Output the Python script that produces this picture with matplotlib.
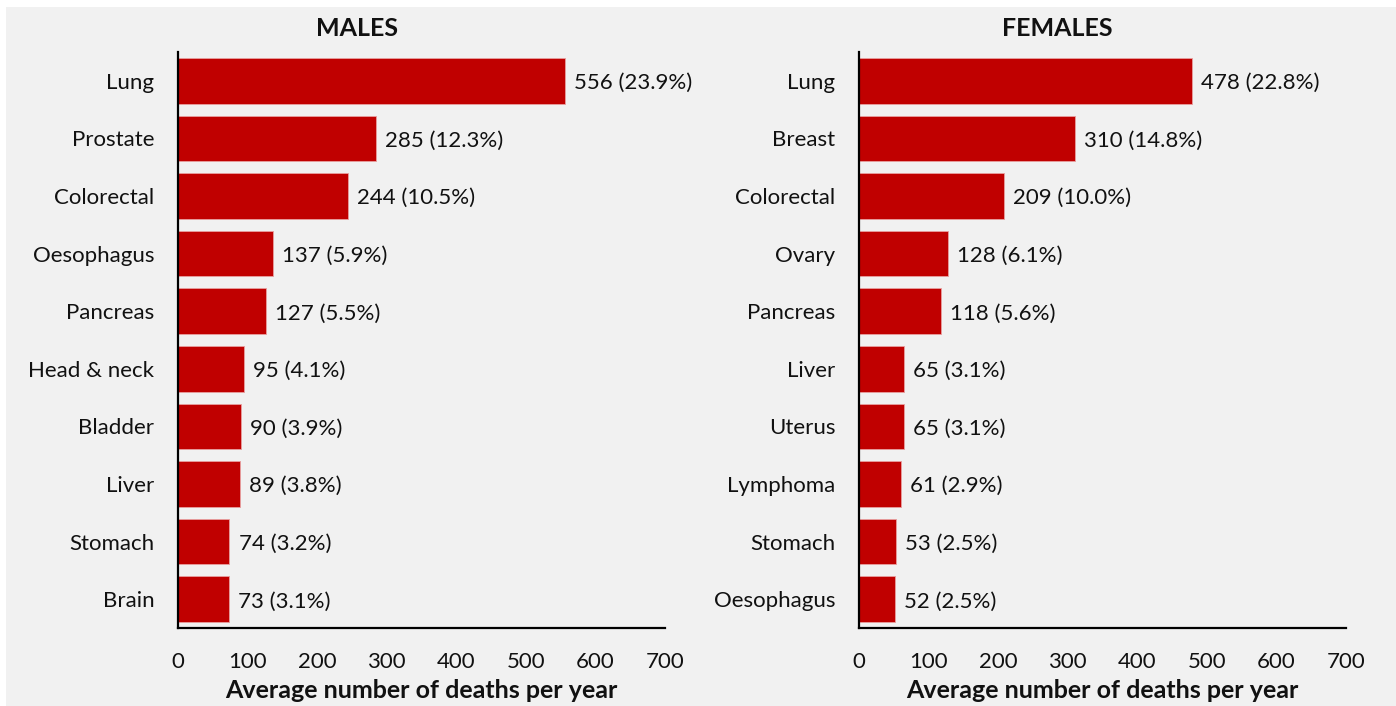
import matplotlib
matplotlib.use("Agg")
import matplotlib.pyplot as plt
from matplotlib.patches import Rectangle

plt.rcParams['font.family'] = ['Lato', 'DejaVu Sans']

male_sites = ["Lung", "Prostate", "Colorectal", "Oesophagus", "Pancreas",
              "Head & neck", "Bladder", "Liver", "Stomach", "Brain"]
male_deaths = [556, 285, 244, 137, 127, 95, 90, 89, 74, 73]
male_pct = ["23.9%", "12.3%", "10.5%", "5.9%", "5.5%", "4.1%", "3.9%", "3.8%", "3.2%", "3.1%"]

female_sites = ["Lung", "Breast", "Colorectal", "Ovary", "Pancreas",
                "Liver", "Uterus", "Lymphoma", "Stomach", "Oesophagus"]
female_deaths = [478, 310, 209, 128, 118, 65, 65, 61, 53, 52]
female_pct = ["22.8%", "14.8%", "10.0%", "6.1%", "5.6%", "3.1%", "3.1%", "2.9%", "2.5%", "2.5%"]

xticks = [0, 100, 200, 300, 400, 500, 600, 700]

W, H = 1396, 706
fig = plt.figure(figsize=(W / 100, H / 100), dpi=100, facecolor="white")
bg = "#F1F1F1"
fig.patches.append(Rectangle((6 / W, 0), 1 - 6 / W, 1 - 7 / H, transform=fig.transFigure,
                             facecolor=bg, edgecolor="none", zorder=-10))

bar_color = "#C00000"
fs = 16

def panel(left_px, sites, deaths, pct, title, title_cx):
    ax = fig.add_axes([left_px / W, 1 - 628 / H, 487 / W, (628 - 52) / H])
    ax.set_facecolor("none")
    y = list(range(len(sites)))
    ax.barh(y, deaths, height=0.79, color=bar_color, edgecolor="#E8A0A0", linewidth=0.6)
    for yi, d, p in zip(y, deaths, pct):
        ax.text(d + 13, yi + 0.04, f"{d} ({p})", va="center", ha="left", fontsize=fs, color="#111111")
    ax.set_ylim(9.5, -0.5)
    ax.set_xlim(0, 700)
    ax.set_yticks(y)
    ax.set_yticklabels(sites, fontsize=fs, color="#111111")
    ax.set_xticks(xticks)
    ax.set_xticklabels([str(t) for t in xticks], fontsize=fs, color="#111111")
    ax.tick_params(axis="both", length=0)
    ax.tick_params(axis="y", pad=17)
    ax.tick_params(axis="x", pad=17)
    for s in ["top", "right"]:
        ax.spines[s].set_visible(False)
    for s in ["left", "bottom"]:
        ax.spines[s].set_linewidth(1.6)
        ax.spines[s].set_color("black")
    ax.set_xlabel("Average number of deaths per year", fontsize=18, fontweight="bold",
                  labelpad=5, color="#111111")
    fig.text(title_cx / W, 1 - 28 / H, title, ha="center", va="center",
             fontsize=18, fontweight="bold", color="#111111")
    return ax

panel(178, male_sites, male_deaths, male_pct, "MALES", 357)
panel(859, female_sites, female_deaths, female_pct, "FEMALES", 1057)

fig.savefig("out.png", dpi=100, facecolor=fig.get_facecolor())
